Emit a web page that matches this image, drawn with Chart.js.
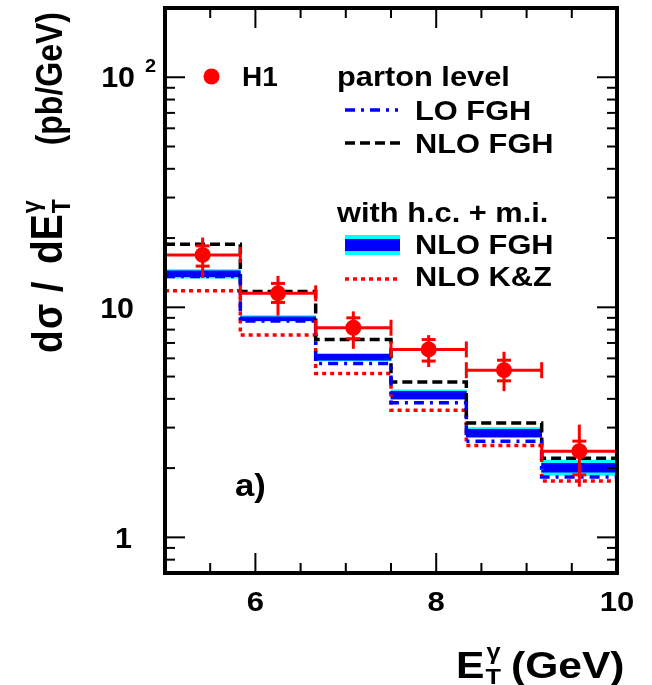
<!DOCTYPE html>
<html>
<head>
<meta charset="utf-8">
<script src="https://cdn.jsdelivr.net/npm/chart.js@4.4.0/dist/chart.umd.min.js"></script>
<style>
  html, body { margin: 0; padding: 0; background: #fff; }
  #wrap { width: 652px; height: 685px; }
</style>
</head>
<body>
<div id="wrap"><canvas id="etChart" width="652" height="685"></canvas></div>
<script>
// E_T^gamma bin edges (GeV)
const binEdges = [5, 5.8333, 6.6667, 7.5, 8.3333, 9.1667, 10];

// H1 measurement: value, inner (stat) and outer (total) error limits
const h1Values   = [16.9, 11.5, 8.15, 6.56, 5.33, 2.37];
const h1StatHigh = [18.5, 12.7, 9.0, 7.24, 5.89, 2.62];
const h1StatLow  = [15.1, 10.5, 7.3, 5.84, 4.79, 1.87];
const h1TotHigh  = [20.1, 13.7, 9.6, 7.57, 6.41, 3.09];
const h1TotLow   = [13.4, 9.2, 6.6, 5.5, 4.32, 1.66];

// parton level
const loFGH  = [13.6, 8.71, 5.70, 3.85, 2.62, 1.83];
const nloFGH = [18.8, 11.7, 7.24, 4.74, 3.14, 2.21];

// with h.c. + m.i.
const nloFGHcHigh   = [14.6, 9.2, 6.3, 4.38, 3.0, 2.17];
const nloFGHcLow    = [13.4, 8.7, 5.85, 3.98, 2.71, 1.86];
const nloFGHcInHigh = [14.4, 9.1, 6.24, 4.31, 2.95, 2.10];
const nloFGHcInLow  = [13.6, 8.75, 5.89, 4.0, 2.73, 1.92];
const nloKZ = [11.8, 7.57, 5.15, 3.57, 2.51, 1.76];

const xMajorTicks = [6, 8, 10];
const xMinorTicks = [5.5, 6.5, 7, 7.5, 8.5, 9, 9.5];
const yMajorTicks = [1, 10, 100];

const RED = '#ff0000', BLUE = '#0000ff', CYAN = '#00ffff';
const FONT = '"Liberation Sans", Arial, sans-serif';
const SX = 1.15; // glyphs are a bit wide in x

const centers = binEdges.slice(0, -1).map((e, i) => (e + binEdges[i + 1]) / 2);

// histogram outline: flat top over each bin, vertical joins at the edges
function stepPoints(vals) {
  const pts = [];
  vals.forEach((v, i) => {
    pts.push({x: binEdges[i], y: v});
    pts.push({x: binEdges[i + 1], y: v});
  });
  return pts;
}

function bandBars(low, high) {
  return centers.map((c, i) => ({x: c, y: [low[i], high[i]]}));
}

function stepLine(vals, color, dash) {
  return {
    type: 'line', data: stepPoints(vals), borderColor: color, borderWidth: 3.5,
    borderDash: dash, pointRadius: 0, tension: 0, fill: false
  };
}

const datasets = [
  {
    type: 'line', label: 'H1', data: centers.map((c, i) => ({x: c, y: h1Values[i]})),
    showLine: false, pointRadius: 8, pointBackgroundColor: RED, pointBorderColor: RED, pointBorderWidth: 0
  },
  stepLine(loFGH, BLUE, [10, 6, 3, 6]),
  stepLine(nloFGH, '#000000', [10, 5]),
  stepLine(nloKZ, RED, [4, 4]),
  {
    type: 'bar', data: bandBars(nloFGHcInLow, nloFGHcInHigh), backgroundColor: BLUE,
    borderWidth: 0, grouped: false, barPercentage: 1, categoryPercentage: 1
  },
  {
    type: 'bar', data: bandBars(nloFGHcLow, nloFGHcHigh), backgroundColor: CYAN,
    borderWidth: 0, grouped: false, barPercentage: 1, categoryPercentage: 1
  }
];

function line(ctx, x1, y1, x2, y2) {
  ctx.beginPath(); ctx.moveTo(x1, y1); ctx.lineTo(x2, y2); ctx.stroke();
}

// bold text, widened horizontally; returns drawn width
function text(ctx, str, x, y, size, align, sx) {
  ctx.save();
  ctx.font = 'bold ' + size + 'px ' + FONT;
  ctx.textAlign = align || 'left';
  ctx.translate(x, y);
  ctx.scale(sx || SX, 1);
  ctx.fillText(str, 0, 0);
  const w = ctx.measureText(str).width * (sx || SX);
  ctx.restore();
  return w;
}

const errorBars = {
  id: 'errorBars',
  afterDatasetsDraw(chart) {
    const {ctx, scales: {x, y}} = chart;
    ctx.save();
    ctx.strokeStyle = RED;
    ctx.lineWidth = 3;
    centers.forEach((c, i) => {
      const px = x.getPixelForValue(c);
      const py = y.getPixelForValue(h1Values[i]);
      const xl = x.getPixelForValue(binEdges[i]);
      const xr = x.getPixelForValue(binEdges[i + 1]);
      line(ctx, xl, py, xr, py);
      line(ctx, xl, py - 8, xl, py + 8);
      line(ctx, xr, py - 8, xr, py + 8);
      line(ctx, px, y.getPixelForValue(h1TotLow[i]), px, y.getPixelForValue(h1TotHigh[i]));
      [h1StatHigh[i], h1StatLow[i]].forEach(v => {
        const sy = y.getPixelForValue(v);
        line(ctx, px - 7, sy, px + 7, sy);
      });
    });
    ctx.restore();
  }
};

const frameAndText = {
  id: 'frameAndText',
  afterDraw(chart) {
    const {ctx, chartArea: a, scales: {x, y}} = chart;
    ctx.save();

    // tick marks pointing inwards on all four sides
    ctx.strokeStyle = '#000';
    ctx.lineWidth = 2;
    const xt = (v, len) => {
      const px = x.getPixelForValue(v);
      line(ctx, px, a.bottom, px, a.bottom - len);
      line(ctx, px, a.top, px, a.top + len);
    };
    xMajorTicks.forEach(v => xt(v, 20));
    xMinorTicks.forEach(v => xt(v, 10));
    const yt = (v, len) => {
      const py = y.getPixelForValue(v);
      line(ctx, a.left, py, a.left + len, py);
      line(ctx, a.right, py, a.right - len, py);
    };
    yMajorTicks.forEach(v => yt(v, 20));
    [0.1, 1, 10, 100].forEach(d => {
      for (let m = 2; m <= 9; m++) {
        const v = m * d;
        if (v > 0.7 && v < 200) yt(v, 10);
      }
    });

    // frame
    ctx.lineWidth = 4;
    ctx.strokeRect(a.left, a.top, a.right - a.left, a.bottom - a.top);

    // tick labels
    ctx.fillStyle = '#000';
    ctx.textBaseline = 'alphabetic';
    xMajorTicks.forEach(v => text(ctx, String(v), x.getPixelForValue(v), 611, 27, 'center'));
    text(ctx, '1', 132, y.getPixelForValue(1) + 11, 29, 'right', 1.05);
    text(ctx, '10', 134, y.getPixelForValue(10) + 11, 29, 'right', 1.05);
    text(ctx, '10', 135, y.getPixelForValue(100) + 10, 29, 'right', 1.05);
    text(ctx, '2', 145, 72, 19, 'left', 1.05);

    // y axis title, running upwards (local x = -screen y)
    ctx.save();
    ctx.translate(62, 0);
    ctx.rotate(-Math.PI / 2);
    ctx.scale(1, SX);
    ctx.textAlign = 'left';
    ctx.font = 'bold 37px ' + FONT;
    ctx.fillText('d', -353, 0);
    ctx.fillText('\u03c3', -329, 0);
    ctx.fillText('/', -292, 0);
    ctx.font = 'bold 39px ' + FONT;
    ctx.fillText('dE', -264, 0);
    const wdE = ctx.measureText('dE').width;
    ctx.font = 'bold 23px ' + FONT;
    ctx.fillText('T', -264 + wdE + 1, 7);
    ctx.fillText('\u03b3', -264 + wdE + 1, -19);
    ctx.font = 'bold 32px ' + FONT;
    ctx.textAlign = 'right';
    ctx.fillText('(pb/GeV)', -12, 0);
    ctx.restore();

    // x axis title
    const wE = text(ctx, 'E', 456, 678, 37, 'left');
    text(ctx, 'T', 456 + wE + 1, 684, 22, 'left');
    text(ctx, '\u03b3', 456 + wE + 2, 659, 22, 'left');
    text(ctx, '(GeV)', 511, 678, 37, 'left');

    // panel label
    text(ctx, 'a)', 235, 496, 31, 'left', 1.12);

    // legend
    ctx.fillStyle = RED;
    ctx.beginPath(); ctx.arc(211.5, 76.5, 8, 0, Math.PI * 2); ctx.fill();
    ctx.fillStyle = '#000';
    ctx.textBaseline = 'middle';
    text(ctx, 'H1', 242, 78, 28, 'left', 1.0);
    text(ctx, 'parton level', 337, 78, 28, 'left', 1.1);
    text(ctx, 'LO FGH', 415, 112, 28, 'left', 1.1);
    text(ctx, 'NLO FGH', 415, 145, 28, 'left', 1.1);
    text(ctx, 'with h.c. + m.i.', 337, 214, 28, 'left', 1.1);
    text(ctx, 'NLO FGH', 415, 246, 28, 'left', 1.1);
    text(ctx, 'NLO K&Z', 415, 278, 28, 'left', 1.1);

    ctx.lineWidth = 3.5;
    ctx.strokeStyle = BLUE;
    ctx.setLineDash([10, 6, 3, 6]);
    line(ctx, 345, 110, 398, 110);
    ctx.strokeStyle = '#000';
    ctx.setLineDash([10, 5]);
    line(ctx, 345, 143, 400, 143);
    ctx.strokeStyle = RED;
    ctx.setLineDash([4, 4]);
    line(ctx, 345, 279, 398, 279);
    ctx.setLineDash([]);
    ctx.fillStyle = CYAN;
    ctx.fillRect(345, 235, 55, 20);
    ctx.fillStyle = BLUE;
    ctx.fillRect(345, 239, 55, 12);

    ctx.restore();
  }
};

new Chart(document.getElementById('etChart'), {
  type: 'line',
  data: {datasets},
  options: {
    responsive: false,
    animation: false,
    layout: {padding: {left: 165, right: 35, top: 8, bottom: 112}},
    plugins: {legend: {display: false}, tooltip: {enabled: false}},
    scales: {
      x: {
        type: 'linear', min: 5, max: 10, display: false, offset: false,
        afterBuildTicks: s => { s.ticks = xMajorTicks.map(v => ({value: v})); }
      },
      y: {type: 'logarithmic', min: 0.7, max: 200, display: false}
    }
  },
  plugins: [errorBars, frameAndText]
});
</script>
</body>
</html>
